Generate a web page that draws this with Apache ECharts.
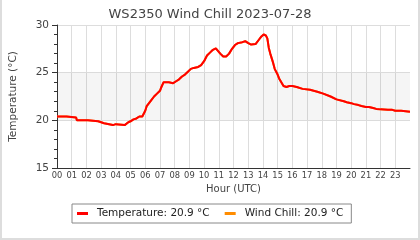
<!DOCTYPE html>
<html><head><meta charset="utf-8">
<script src="https://cdn.jsdelivr.net/npm/echarts@6/dist/echarts.min.js"></script>
<style>
html,body{margin:0;padding:0;background:#fff;}
#c{position:absolute;left:0;top:0;width:420px;height:240px;}
#f{position:absolute;left:0;top:0;width:416px;height:238px;border-left:2px solid #ddd;border-right:2px solid #ddd;border-bottom:2px solid #ddd;pointer-events:none;}
</style></head>
<body><div id="c"></div><div id="f"></div>
<script>
const titleText = 'WS2350 Wind Chill 2023-07-28';
const hours = [0.0,0.65,0.7,1.3,1.35,2.1,2.15,2.8,2.85,3.2,3.3,3.8,3.85,4.0,4.05,4.6,4.7,4.85,5.0,5.2,5.4,5.6,5.8,5.9,6.0,6.1,6.2,6.4,6.6,6.8,7.0,7.1,7.25,7.6,7.7,7.9,8.1,8.3,8.5,8.7,8.9,9.1,9.3,9.6,9.8,10.0,10.2,10.4,10.6,10.8,10.9,11.1,11.3,11.5,11.7,11.9,12.1,12.3,12.6,12.8,13.0,13.2,13.5,13.7,13.9,14.05,14.2,14.3,14.4,14.5,14.6,14.7,14.8,14.9,15.0,15.1,15.25,15.4,15.6,15.8,16.0,16.3,16.4,16.7,16.8,17.2,17.3,17.7,17.8,18.1,18.2,18.6,18.7,19.0,19.1,19.5,19.7,20.0,20.2,20.5,20.7,21.0,21.2,21.5,21.7,22.0,22.5,22.8,23.0,23.4,23.5,24.0];
const temperature = [20.4,20.4,20.3,20.3,20.0,20.0,19.9,19.9,19.7,19.7,19.5,19.5,19.6,19.6,19.5,19.5,19.7,19.8,19.9,20.1,20.2,20.4,20.4,20.6,21.0,21.5,21.7,22.1,22.5,22.8,23.1,23.5,24.0,24.0,23.9,23.9,24.1,24.3,24.6,24.8,25.1,25.4,25.5,25.6,25.8,26.2,26.8,27.1,27.4,27.55,27.4,27.0,26.7,26.7,27.0,27.5,27.9,28.1,28.2,28.3,28.1,27.95,28.0,28.4,28.8,29.0,28.9,28.6,27.6,27.0,26.5,26.0,25.4,25.1,24.8,24.4,24.0,23.6,23.5,23.6,23.6,23.5,23.4,23.3,23.2,23.2,23.1,23.0,22.9,22.8,22.7,22.5,22.4,22.2,22.1,22.0,21.9,21.8,21.7,21.6,21.5,21.4,21.4,21.3,21.2,21.15,21.1,21.1,21.0,21.0,20.9,20.9];
const windChill = temperature.slice();
const tempName = 'Temperature: 20.9 °C';
const chillName = 'Wind Chill: 20.9 °C';
const yTicks = [15, 20, 25, 30];
const band = [20, 25];
const xName = 'Hour (UTC)';
const yName = 'Temperature (°C)';

const font = 'DejaVu Sans';
const chart = echarts.init(document.getElementById('c'), null, {renderer:'canvas'});
chart.setOption({
  animation:false,
  title:{text:titleText,left:'center',top:3,textStyle:{fontFamily:font,fontSize:13,fontWeight:'normal',color:'#444'}},
  grid:{left:57,right:10,top:25,bottom:72},
  legend:{left:72,top:204,orient:'horizontal',borderColor:'#888',borderWidth:1,padding:[4,8,4,5],
    itemGap:15,itemWidth:11,itemHeight:3,icon:'rect',
    textStyle:{fontFamily:font,fontSize:10.5,color:'#222',padding:[0,0,0,4]},
    data:[tempName,chillName]},
  xAxis:{type:'value',min:0,max:24,interval:1,name:xName,nameLocation:'middle',nameGap:16,
    nameTextStyle:{fontFamily:font,fontSize:10,color:'#444'},
    axisLine:{lineStyle:{color:'#333'}},axisTick:{show:false},
    axisLabel:{fontFamily:font,fontSize:8.3,color:'#444',margin:4,showMaxLabel:false,
      formatter:v=> v<24 ? String(v).padStart(2,'0') : ''},
    splitLine:{show:true,showMaxLine:false,lineStyle:{color:'#ddd'}}},
  yAxis:{type:'value',min:yTicks[0],max:yTicks[yTicks.length-1],interval:5,name:yName,nameLocation:'middle',nameGap:38,
    nameTextStyle:{fontFamily:font,fontSize:10.5,color:'#444'},
    axisLine:{show:true,lineStyle:{color:'#333'}},axisTick:{show:true,length:5,lineStyle:{color:'#333'}},
    minorTick:{show:true,splitNumber:5,length:3,lineStyle:{color:'#333'}},
    axisLabel:{fontFamily:font,fontSize:10.5,color:'#444',margin:8},
    splitLine:{show:true,lineStyle:{color:'#ddd'}}},
  series:[
    {name:chillName,type:'line',data:hours.map((h,i)=>[h,windChill[i]]),showSymbol:false,
      lineStyle:{color:'#ff8c00',width:2},itemStyle:{color:'#ff8c00'},z:2,
      markArea:{silent:true,itemStyle:{color:'rgba(0,0,0,0.04)'},data:[[{yAxis:band[0]},{yAxis:band[1]}]]}},
    {name:tempName,type:'line',data:hours.map((h,i)=>[h,temperature[i]]),showSymbol:false,
      lineStyle:{color:'#ff0000',width:2},itemStyle:{color:'#ff0000'},z:3}
  ]
});
</script></body></html>
